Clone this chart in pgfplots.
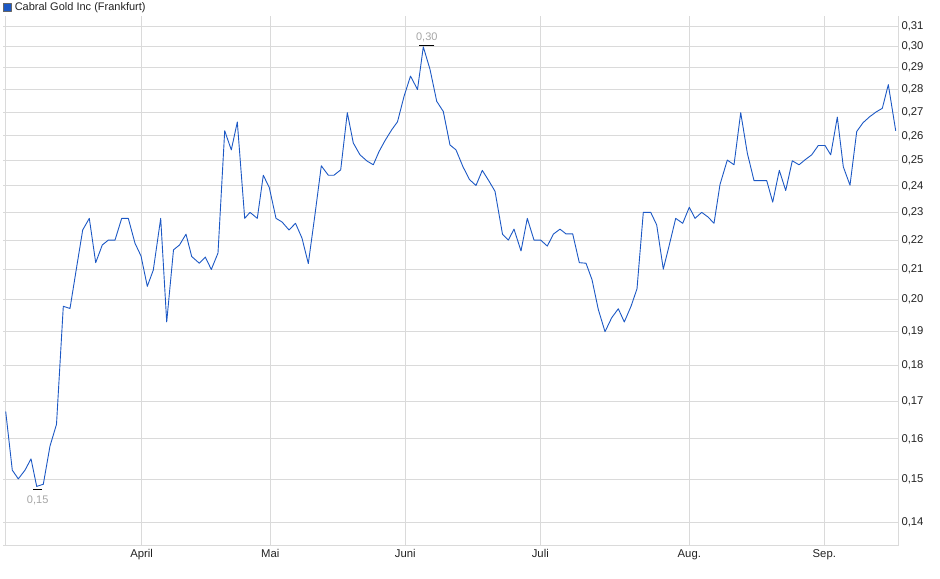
\documentclass[border=0pt]{standalone}
\usepackage{fontspec}
\setmainfont{Liberation Sans}
\usepackage{pgfplots}
\usepackage{pgfplotstable}
\pgfplotsset{compat=1.18}

\definecolor{lineblue}{RGB}{28,88,196}
\definecolor{gridgray}{RGB}{218,218,218}
\definecolor{labgray}{RGB}{165,165,165}
\definecolor{ticktext}{RGB}{34,34,34}

% x = horizontal position of the session, y = price (EUR)
\pgfplotstableread{
x      y
5.7    0.1672
12.3   0.1522
18.3   0.1501
25.0   0.1522
31.0   0.1550
36.7   0.1483
43.3   0.1488
50.0   0.1582
56.5   0.1638
63.3   0.1979
70.0   0.1972
76.7   0.2108
82.7   0.2236
89.3   0.2278
95.7   0.2122
102.3  0.2183
108.3  0.2200
115.0  0.2200
121.7  0.2278
128.3  0.2278
135.0  0.2189
141.0  0.2145
147.3  0.2043
153.3  0.2097
160.7  0.2278
166.7  0.1930
173.5  0.2166
179.5  0.2183
186.0  0.2221
191.7  0.2143
199.3  0.2120
205.3  0.2141
211.3  0.2099
218.0  0.2155
224.7  0.2621
231.3  0.2542
237.3  0.2658
244.7  0.2278
250.0  0.2300
257.3  0.2278
263.3  0.2441
269.3  0.2393
276.0  0.2278
282.0  0.2265
289.0  0.2236
295.5  0.2260
302.0  0.2207
308.3  0.2119
314.8  0.2287
321.3  0.2478
328.3  0.2441
334.0  0.2441
340.7  0.2462
347.3  0.2698
353.3  0.2570
360.0  0.2522
367.0  0.2497
373.3  0.2482
379.0  0.2535
385.0  0.2580
391.7  0.2625
397.5  0.2659
404.0  0.2769
410.5  0.2861
417.5  0.2800
423.3  0.2998
430.0  0.2892
436.7  0.2748
443.3  0.2703
450.0  0.2562
456.0  0.2542
463.0  0.2474
469.5  0.2424
476.0  0.2401
482.3  0.2460
489.0  0.2418
495.0  0.2379
502.5  0.2221
508.3  0.2200
514.0  0.2239
521.0  0.2162
527.3  0.2278
534.0  0.2200
540.7  0.2200
547.3  0.2179
553.3  0.2221
560.0  0.2239
566.0  0.2222
572.7  0.2222
579.3  0.2122
586.0  0.2120
592.0  0.2065
598.3  0.1969
605.0  0.1900
611.7  0.1943
618.3  0.1971
624.3  0.1930
631.0  0.1979
637.0  0.2035
643.3  0.2300
650.7  0.2300
656.7  0.2254
663.3  0.2100
669.5  0.2186
675.7  0.2278
682.7  0.2260
689.3  0.2319
695.0  0.2278
701.7  0.2300
708.0  0.2283
714.0  0.2260
720.0  0.2405
727.3  0.2501
734.0  0.2482
740.7  0.2698
747.3  0.2529
754.0  0.2420
760.0  0.2420
766.7  0.2420
772.7  0.2338
779.3  0.2460
785.7  0.2382
792.3  0.2498
799.0  0.2482
805.7  0.2504
811.7  0.2522
818.3  0.2560
825.0  0.2560
830.7  0.2522
837.3  0.2679
843.3  0.2474
850.0  0.2402
856.7  0.2618
863.0  0.2655
869.5  0.2680
876.0  0.2701
882.3  0.2717
888.3  0.2822
895.7  0.2621
}\prices

\begin{document}
\begin{tikzpicture}
\useasboundingbox (-3bp,-33.3bp) rectangle (937bp,545.7bp);
\begin{axis}[
  scale only axis,
  width=895bp, height=529.7bp,
  xmin=3, xmax=898,
  ymode=log,
  ymin=0.13485, ymax=0.3150,
  axis y line*=right,
  axis x line*=bottom,
  axis line style={draw=gridgray, line width=1bp},
  major tick length=0pt,
  xtick={141.7,270.3,405.3,540.3,689.3,824.3},
  xticklabels={April,Mai,Juni,Juli,Aug.,Sep.},
  extra x ticks={5},
  extra x tick labels={},
  extra x tick style={grid=major},
  ytick={0.14,0.15,0.16,0.17,0.18,0.19,0.20,0.21,0.22,0.23,0.24,0.25,0.26,0.27,0.28,0.29,0.30,0.31},
  yticklabels={{0,14},{0,15},{0,16},{0,17},{0,18},{0,19},{0,20},{0,21},{0,22},{0,23},{0,24},{0,25},{0,26},{0,27},{0,28},{0,29},{0,30},{0,31}},
  grid=major,
  major grid style={draw=gridgray, line width=1bp},
  tick label style={font=\fontsize{11.3bp}{13bp}\selectfont, text=ticktext},
  /pgf/number format/assume math mode=true,
  legend style={at={(axis description cs:0,1)}, anchor=west, yshift=8.5bp,
    draw=none, fill=none, inner xsep=0pt, inner ysep=0pt,
    font=\fontsize{11bp}{13bp}\selectfont, text=ticktext,
    /tikz/every odd column/.append style={column sep=1bp}},
  legend cell align=left,
  legend image code/.code={\draw[draw=black!60, fill=lineblue, line width=0.6bp] (0bp,-4bp) rectangle (8bp,4bp);},
  clip=false,
]
\addplot[draw=lineblue, line width=0.9bp, line join=round] table[x=x, y=y] {\prices};
\addlegendentry{Cabral Gold Inc (Frankfurt)}
\addplot[only marks, mark=-, mark size=4.5bp, mark options={draw=black, line width=1bp},
  nodes near coords={0,15}, nodes near coords align=below,
  every node near coord/.append style={font=\fontsize{11bp}{13bp}\selectfont, text=labgray, yshift=-2bp},
  forget plot] coordinates {(37.7,0.1475)};
\addplot[only marks, mark=-, mark size=7.5bp, mark options={draw=black, line width=1bp},
  nodes near coords={0,30}, nodes near coords align=above,
  every node near coord/.append style={font=\fontsize{11bp}{13bp}\selectfont, text=labgray},
  forget plot] coordinates {(426.8,0.3005)};
\end{axis}
\end{tikzpicture}
\end{document}
